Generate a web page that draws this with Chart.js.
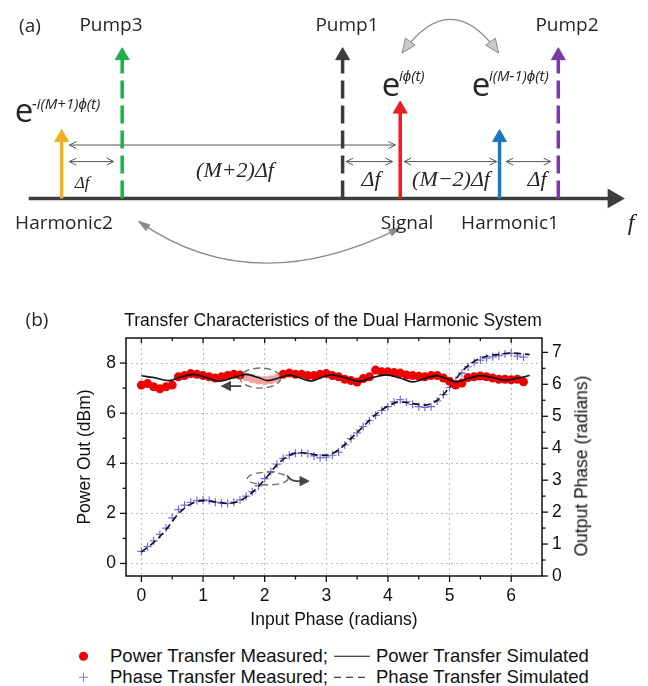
<!DOCTYPE html>
<html>
<head>
<meta charset="utf-8">
<script src="https://cdn.jsdelivr.net/npm/chart.js@4.4.1/dist/chart.umd.min.js"></script>
<style>
  body { margin: 0; background: #fff; }
  #wrap { position: relative; width: 648px; height: 686px; overflow: hidden; background: #fff; }
  canvas { position: absolute; left: 0; }
  .t { position: absolute; transform: translate(-50%, -50%); white-space: nowrap; line-height: 1;
       font-family: 'Open Sans', sans-serif; font-size: 19px; color: #262626; }
  .l { position: absolute; transform: translateY(-50%); white-space: nowrap; line-height: 1;
       font-family: 'Open Sans', sans-serif; color: #262626; }
  .m { font-family: 'Liberation Serif', serif; font-style: italic; font-size: 22px; }
  .sup { font-size: 15px; font-style: italic; }
  .row { position: absolute; left: 79px; transform: translateY(-50%); display: flex; align-items: center;
         font-family: 'Liberation Sans', Arial, sans-serif; font-size: 18.5px; color: #111; white-space: nowrap; line-height: 1; }
  .mk { width: 31px; height: 10px; display: flex; align-items: center; }
  .dot { width: 9px; height: 9px; border-radius: 50%; background: #ee0000; }
  .cross { width: 9px; height: 9px;
           background: linear-gradient(#7b7be0, #7b7be0) center / 1px 100% no-repeat,
                       linear-gradient(#7b7be0, #7b7be0) center / 100% 1px no-repeat; }
  .ln { width: 36px; height: 1.5px; background: #111; margin: 0 6px; }
  .dash { width: 36px; height: 1.5px; margin: 0 6px;
          background: repeating-linear-gradient(to right, #111 0 7px, transparent 7px 12px); }
  .rt { position: absolute; transform: translate(-50%, -50%) rotate(-90deg); white-space: nowrap; line-height: 1;
        font-family: 'Liberation Sans', Arial, sans-serif; font-size: 17.5px; color: #111; }
</style>
</head>
<body>
<div id="wrap">
  <canvas id="diagram" width="648" height="290" style="top:0"></canvas>
  <canvas id="chart" width="648" height="342" style="top:290px"></canvas>

  <!-- panel (a) labels -->
  <div class="t" style="left:30px;top:25px">(a)</div>
  <div class="t" style="left:111px;top:24px">Pump3</div>
  <div class="t" style="left:347px;top:24px">Pump1</div>
  <div class="t" style="left:567px;top:24px">Pump2</div>
  <div class="t" style="left:64px;top:222px">Harmonic2</div>
  <div class="t" style="left:407px;top:222px">Signal</div>
  <div class="t" style="left:510px;top:222px">Harmonic1</div>
  <div class="t m" style="left:631px;top:222px;font-size:24px">f</div>

  <div class="t" style="left:24px;top:109px;font-size:33px">e</div>
  <div class="l sup" style="left:32px;top:103px">-i(M+1)&#981;(t)</div>
  <div class="t" style="left:391px;top:83px;font-size:33px">e</div>
  <div class="l sup" style="left:399px;top:75px">i&#981;(t)</div>
  <div class="t" style="left:481px;top:83px;font-size:33px">e</div>
  <div class="l sup" style="left:489px;top:75px">i(M-1)&#981;(t)</div>

  <div class="t m" style="left:235px;top:170px">(M+2)&Delta;f</div>
  <div class="t m" style="left:82px;top:182px;font-size:17px">&Delta;f</div>
  <div class="t m" style="left:371px;top:179px">&Delta;f</div>
  <div class="t m" style="left:451px;top:179px">(M&minus;2)&Delta;f</div>
  <div class="t m" style="left:537px;top:179px">&Delta;f</div>

  <!-- panel (b) labels -->
  <div class="t" style="left:37px;top:319px">(b)</div>
  <div class="rt" style="left:582px;top:466px">Output Phase (radians)</div>

  <div class="row" style="top:656px"><span class="mk"><span class="dot"></span></span><span>Power Transfer Measured;</span><span class="ln"></span><span>Power Transfer Simulated</span></div>
  <div class="row" style="top:677px"><span class="mk"><span class="cross"></span></span><span>Phase Transfer Measured;</span><span class="dash"></span><span>Phase Transfer Simulated</span></div>
</div>

<script>
// ---- panel (a): spectrum components ----
const componentNames = ['Harmonic2', 'Pump3', 'Pump1', 'Signal', 'Harmonic1', 'Pump2'];
const componentFreq = [0, 1.03, 4.78, 5.76, 7.45, 8.45];
const componentAmp = [0.426, 1, 1, 0.626, 0.426, 1];
const componentColor = ['#f2b01e', '#1fae4b', '#3b3b3b', '#ee1c24', '#1b79c2', '#7b3aa8'];
const componentDashed = [false, true, true, false, false, true];

// frequency axis drawn from / to
const axisFrom = -0.56;
const axisTo = 9.387;

// spacing arrows (Δf brackets)
const spanFrom = [0.132, 0.132, 4.841, 5.826, 7.565];
const spanTo = [5.678, 0.886, 5.629, 7.401, 8.320];
const spanLevel = [0.374, 0.258, 0.258, 0.258, 0.258];

// curved links between components
const linkStart = [[5.793, 1.019], [1.313, -0.161]];
const linkBend = [[6.613, 1.490], [3.249, -0.723]];
const linkEnd = [[7.434, 1.019], [5.760, -0.206]];

// ---- panel (b): transfer characteristics ----
const powerMeasX = [0, 0.1, 0.2, 0.3, 0.4, 0.5, 0.6, 0.7, 0.8, 0.9, 1.0, 1.1, 1.2, 1.3, 1.4, 1.5, 1.6,
  2.3, 2.4, 2.5, 2.6, 2.7, 2.8, 2.9, 3.0, 3.1, 3.2, 3.3, 3.4, 3.5, 3.6, 3.7, 3.8, 3.9, 4.0, 4.1, 4.2,
  4.3, 4.4, 4.5, 4.6, 4.7, 4.8, 4.9, 5.0, 5.1, 5.2, 5.3, 5.4, 5.5, 5.6, 5.7, 5.8, 5.9, 6.0, 6.1, 6.2];
const powerMeasY = [7.12, 7.18, 7.05, 6.97, 7.05, 7.12, 7.45, 7.50, 7.58, 7.55, 7.50, 7.45, 7.40, 7.45, 7.50, 7.55, 7.52,
  7.55, 7.60, 7.55, 7.55, 7.50, 7.50, 7.55, 7.58, 7.50, 7.45, 7.35, 7.30, 7.24, 7.38, 7.45, 7.72, 7.65, 7.65, 7.62, 7.60,
  7.52, 7.50, 7.47, 7.45, 7.50, 7.50, 7.40, 7.27, 7.12, 7.20, 7.42, 7.45, 7.48, 7.45, 7.40, 7.35, 7.35, 7.33, 7.35, 7.25];

// highlighted (faded) points inside the left ellipse
const powerFadedX = [1.7, 1.8, 1.9, 2.0, 2.1, 2.2];
const powerFadedY = [7.45, 7.38, 7.32, 7.30, 7.33, 7.40];

const powerSimX = [0, 0.2, 0.45, 0.65, 0.84, 1.05, 1.27, 1.5, 1.7, 1.9, 2.05, 2.25, 2.4, 2.55, 2.75, 2.95, 3.1,
  3.3, 3.54, 3.75, 3.97, 4.2, 4.4, 4.6, 4.78, 4.95, 5.1, 5.3, 5.49, 5.7, 5.9, 6.1, 6.3];
const powerSimY = [7.49, 7.42, 7.30, 7.45, 7.55, 7.42, 7.28, 7.42, 7.55, 7.42, 7.30, 7.42, 7.52, 7.42, 7.28, 7.45, 7.53,
  7.42, 7.27, 7.42, 7.53, 7.40, 7.25, 7.38, 7.50, 7.38, 7.25, 7.38, 7.50, 7.42, 7.31, 7.40, 7.50];

const phaseMeasX = [0, 0.1, 0.2, 0.3, 0.4, 0.5, 0.6, 0.7, 0.8, 0.9, 1.0, 1.1, 1.2, 1.3, 1.4, 1.5, 1.6, 1.7, 1.8, 1.9,
  2.0, 2.1, 2.2, 2.3, 2.4, 2.5, 2.6, 2.7, 2.8, 2.9, 3.0, 3.1, 3.2, 3.3, 3.4, 3.5, 3.6, 3.7, 3.8, 3.9,
  4.0, 4.1, 4.2, 4.3, 4.4, 4.5, 4.6, 4.7, 4.8, 4.9, 5.0, 5.1, 5.2, 5.3, 5.4, 5.5, 5.6, 5.7, 5.8, 5.9,
  6.0, 6.1, 6.2];
const phaseMeasY = [0.77, 0.92, 1.10, 1.30, 1.50, 1.82, 2.08, 2.22, 2.30, 2.36,
  2.38, 2.36, 2.31, 2.28, 2.27, 2.31, 2.38, 2.50, 2.64, 2.82,
  3.05, 3.27, 3.50, 3.68, 3.78, 3.84, 3.86, 3.83, 3.76, 3.70,
  3.72, 3.78, 3.88, 4.10, 4.30, 4.48, 4.68, 4.86, 5.03, 5.18,
  5.30, 5.45, 5.52, 5.45, 5.37, 5.30, 5.28, 5.30, 5.48, 5.68,
  5.90, 6.12, 6.35, 6.55, 6.68, 6.76, 6.82, 6.86, 6.90, 6.95,
  6.97, 6.88, 6.85];

const phaseSimX = [0, 0.2, 0.4, 0.6, 0.8, 1.0, 1.2, 1.4, 1.6, 1.8, 2.0, 2.2, 2.4, 2.6, 2.8, 3.0, 3.2,
  3.4, 3.6, 3.8, 4.0, 4.2, 4.4, 4.6, 4.8, 5.0, 5.2, 5.4, 5.6, 5.8, 6.0, 6.2, 6.3];
const phaseSimY = [0.75, 1.05, 1.45, 1.95, 2.25, 2.36, 2.32, 2.27, 2.36, 2.62, 3.02, 3.48, 3.78, 3.86, 3.80, 3.78, 3.95,
  4.30, 4.68, 5.05, 5.32, 5.45, 5.40, 5.35, 5.50, 5.90, 6.40, 6.72, 6.88, 6.94, 6.98, 6.95, 6.93];

const xTicks = [0, 1, 2, 3, 4, 5, 6];
const xMinor = [0.5, 1.5, 2.5, 3.5, 4.5, 5.5];
const yTicks = [0, 2, 4, 6, 8];
const yMinor = [1, 3, 5, 7];
const y2Ticks = [0, 1, 2, 3, 4, 5, 6, 7];
const y2Minor = [0.5, 1.5, 2.5, 3.5, 4.5, 5.5, 6.5];

function pts(xs, ys) {
  return xs.map((x, i) => ({ x: x, y: ys[i] }));
}

// arrow head with the tip at (x, y) pointing along ang
function arrowHead(ctx, x, y, ang, len, half, filled) {
  const bx = x - len * Math.cos(ang);
  const by = y - len * Math.sin(ang);
  ctx.beginPath();
  ctx.moveTo(bx - half * Math.sin(ang), by + half * Math.cos(ang));
  ctx.lineTo(x, y);
  ctx.lineTo(bx + half * Math.sin(ang), by - half * Math.cos(ang));
  if (filled) {
    ctx.closePath();
    ctx.fill();
  }
  ctx.stroke();
}

// ----- panel (a) -----
const spanPlugin = {
  id: 'spans',
  beforeDatasetsDraw(chart) {
    const { ctx, scales: { x, y } } = chart;
    ctx.save();
    ctx.strokeStyle = '#555';
    ctx.lineWidth = 1;
    spanFrom.forEach((f, i) => {
      const x1 = x.getPixelForValue(f);
      const x2 = x.getPixelForValue(spanTo[i]);
      const py = y.getPixelForValue(spanLevel[i]);
      ctx.beginPath();
      ctx.moveTo(x1, py);
      ctx.lineTo(x2, py);
      ctx.stroke();
      arrowHead(ctx, x1, py, Math.PI, 7, 3.5, false);
      arrowHead(ctx, x2, py, 0, 7, 3.5, false);
    });
    ctx.restore();
  },
  afterDatasetsDraw(chart) {
    const { ctx, scales: { x, y } } = chart;
    ctx.save();
    linkStart.forEach((s, i) => {
      const sx = x.getPixelForValue(s[0]), sy = y.getPixelForValue(s[1]);
      const cx = x.getPixelForValue(linkBend[i][0]), cy = y.getPixelForValue(linkBend[i][1]);
      const ex = x.getPixelForValue(linkEnd[i][0]), ey = y.getPixelForValue(linkEnd[i][1]);
      ctx.strokeStyle = '#8c8c8c';
      ctx.lineWidth = 1.3;
      ctx.beginPath();
      ctx.moveTo(sx, sy);
      ctx.quadraticCurveTo(cx, cy, ex, ey);
      ctx.stroke();
      const big = i === 0;
      ctx.fillStyle = big ? '#c9c9c9' : '#8c8c8c';
      ctx.strokeStyle = '#8a8a8a';
      ctx.lineWidth = 1;
      arrowHead(ctx, sx, sy, Math.atan2(sy - cy, sx - cx), big ? 14 : 11, big ? 6 : 3.5, true);
      arrowHead(ctx, ex, ey, Math.atan2(ey - cy, ex - cx), big ? 14 : 11, big ? 6 : 3.5, true);
    });
    ctx.restore();
  }
};

const diagramSets = componentNames.map((name, i) => ({
  label: name,
  data: [{ x: componentFreq[i], y: 0 }, { x: componentFreq[i], y: componentAmp[i] }],
  showLine: true,
  borderColor: componentColor[i],
  backgroundColor: componentColor[i],
  borderWidth: 3.5,
  borderDash: componentDashed[i] ? [18, 7] : [],
  pointStyle: 'triangle',
  pointRadius: [0, 8],
  pointBackgroundColor: componentColor[i],
  pointBorderColor: componentColor[i],
  pointBorderWidth: 1,
  clip: false,
  order: 1
}));

diagramSets.push({
  label: 'f',
  data: [{ x: axisFrom, y: 0 }, { x: axisTo, y: 0 }],
  showLine: true,
  borderColor: '#3d3d3d',
  borderWidth: 3.5,
  pointStyle: 'triangle',
  pointRadius: [0, 8],
  pointRotation: [0, 90],
  pointBackgroundColor: '#3d3d3d',
  pointBorderColor: '#3d3d3d',
  clip: false,
  order: 5
});

new Chart(document.getElementById('diagram'), {
  type: 'scatter',
  data: { datasets: diagramSets },
  options: {
    responsive: false,
    animation: false,
    events: [],
    layout: { padding: 0 },
    plugins: { legend: { display: false }, tooltip: { enabled: false } },
    scales: {
      x: { type: 'linear', display: false, min: -0.853, max: 9.78 },
      y: { type: 'linear', display: false, min: -0.5613, max: 1.3097 }
    }
  },
  plugins: [spanPlugin]
});

// ----- panel (b) -----
Chart.defaults.font.family = "'Liberation Sans', Arial, sans-serif";
Chart.defaults.color = '#111';

const frameTicks = {
  id: 'frameTicks',
  afterDatasetsDraw(chart) {
    const { ctx, chartArea: a, scales } = chart;
    ctx.save();
    ctx.strokeStyle = '#111';
    ctx.lineWidth = 1.5;
    ctx.strokeRect(a.left, a.top, a.right - a.left, a.bottom - a.top);
    const seg = (x1, y1, x2, y2) => {
      ctx.beginPath();
      ctx.moveTo(x1, y1);
      ctx.lineTo(x2, y2);
      ctx.stroke();
    };
    ctx.lineWidth = 1.3;
    xTicks.forEach(v => {
      const p = scales.x.getPixelForValue(v);
      seg(p, a.bottom, p, a.bottom + 6);
      seg(p, a.top, p, a.top + 5);
    });
    xMinor.forEach(v => {
      const p = scales.x.getPixelForValue(v);
      seg(p, a.bottom, p, a.bottom + 3.5);
      seg(p, a.top, p, a.top + 3);
    });
    yTicks.forEach(v => {
      const p = scales.y.getPixelForValue(v);
      seg(a.left - 6, p, a.left, p);
    });
    yMinor.forEach(v => {
      const p = scales.y.getPixelForValue(v);
      seg(a.left - 3.5, p, a.left, p);
    });
    y2Ticks.forEach(v => {
      const p = scales.y2.getPixelForValue(v);
      seg(a.right, p, a.right + 6, p);
    });
    y2Minor.forEach(v => {
      const p = scales.y2.getPixelForValue(v);
      seg(a.right, p, a.right + 3.5, p);
    });
    ctx.restore();
  }
};

// dashed ellipses that point each curve to its axis
const markerPlugin = {
  id: 'markers',
  afterDatasetsDraw(chart) {
    const { ctx, scales: { x, y, y2 } } = chart;
    ctx.save();
    ctx.strokeStyle = '#6e6e6e';
    ctx.lineWidth = 1.4;
    ctx.setLineDash([7, 4]);
    // power -> left axis
    const cx = x.getPixelForValue(1.93), cy = y.getPixelForValue(7.40);
    const rx = x.getPixelForValue(1.93 + 0.33) - cx, ry = cy - y.getPixelForValue(7.80);
    ctx.beginPath();
    ctx.ellipse(cx, cy, rx, ry, 0, 0, Math.PI * 2);
    ctx.stroke();
    // phase -> right axis
    const cx2 = x.getPixelForValue(2.05), cy2 = y2.getPixelForValue(3.05);
    const rx2 = x.getPixelForValue(2.05 + 0.33) - cx2, ry2 = cy2 - y2.getPixelForValue(3.25);
    ctx.beginPath();
    ctx.ellipse(cx2, cy2, rx2, ry2, 0, 0, Math.PI * 2);
    ctx.stroke();
    ctx.setLineDash([]);
    ctx.strokeStyle = '#444';
    ctx.fillStyle = '#444';
    ctx.lineWidth = 1.8;
    // left arrow
    const ly = y.getPixelForValue(7.08);
    const lx1 = x.getPixelForValue(1.62), lx2 = x.getPixelForValue(1.30);
    ctx.beginPath();
    ctx.moveTo(lx1, ly);
    ctx.lineTo(lx2 + 6, ly);
    ctx.stroke();
    ctx.lineWidth = 1;
    arrowHead(ctx, lx2, ly, Math.PI, 9, 4.5, true);
    // right arrow with a small tail from the ellipse
    ctx.lineWidth = 1.8;
    const ry0 = y2.getPixelForValue(2.97);
    const rxa = x.getPixelForValue(2.38), rxb = x.getPixelForValue(2.72);
    ctx.beginPath();
    ctx.moveTo(cx2 + rx2 - 1, cy2 - 3);
    ctx.quadraticCurveTo(rxa + 3, ry0, rxa + 8, ry0);
    ctx.lineTo(rxb - 6, ry0);
    ctx.stroke();
    ctx.lineWidth = 1;
    arrowHead(ctx, rxb, ry0, 0, 9, 4.5, true);
    ctx.restore();
  }
};

const tickFont = { size: 17.5 };

new Chart(document.getElementById('chart'), {
  type: 'scatter',
  data: {
    datasets: [
      {
        label: 'Power Transfer Simulated',
        data: pts(powerSimX, powerSimY),
        showLine: true,
        borderColor: '#111',
        borderWidth: 1.6,
        pointRadius: 0,
        cubicInterpolationMode: 'monotone',
        yAxisID: 'y',
        order: 1
      },
      {
        label: 'Power Transfer Measured',
        data: pts(powerMeasX, powerMeasY),
        pointRadius: 4.5,
        pointBackgroundColor: '#ee0000',
        pointBorderColor: '#ee0000',
        pointBorderWidth: 0,
        yAxisID: 'y',
        order: 2
      },
      {
        label: 'Power Transfer Measured (highlighted)',
        data: pts(powerFadedX, powerFadedY),
        pointRadius: 4.5,
        pointBackgroundColor: '#f4a3a3',
        pointBorderColor: '#f4a3a3',
        pointBorderWidth: 0,
        yAxisID: 'y',
        order: 2
      },
      {
        label: 'Phase Transfer Simulated',
        data: pts(phaseSimX, phaseSimY),
        showLine: true,
        borderColor: '#111',
        borderWidth: 1.6,
        borderDash: [7, 4],
        pointRadius: 0,
        cubicInterpolationMode: 'monotone',
        yAxisID: 'y2',
        order: 3
      },
      {
        label: 'Phase Transfer Measured',
        data: pts(phaseMeasX, phaseMeasY),
        pointStyle: 'cross',
        pointRadius: 4,
        pointBorderColor: 'rgba(95, 95, 225, 0.9)',
        pointBorderWidth: 1.2,
        yAxisID: 'y2',
        order: 4
      }
    ]
  },
  options: {
    responsive: false,
    animation: false,
    events: [],
    layout: { padding: { left: 18, right: 0, top: 0, bottom: 0 } },
    plugins: {
      legend: { display: false },
      tooltip: { enabled: false },
      title: {
        display: true,
        text: 'Transfer Characteristics of the Dual Harmonic System',
        color: '#111',
        font: { size: 17.5, weight: 'normal' },
        padding: { top: 21, bottom: 6 }
      }
    },
    scales: {
      x: {
        type: 'linear',
        position: 'bottom',
        min: -0.25,
        max: 6.5,
        afterBuildTicks: s => { s.ticks = xTicks.map(v => ({ value: v })); },
        afterFit: s => { s.height = 56; },
        grid: { color: '#bdbdbd', lineWidth: 1, drawTicks: false },
        border: { display: false, dash: [2, 3] },
        ticks: { font: tickFont, padding: 10 },
        title: { display: true, text: 'Input Phase (radians)', font: { size: 17.5 }, padding: { top: 0, bottom: 1 } }
      },
      y: {
        type: 'linear',
        position: 'left',
        min: -0.5,
        max: 9,
        afterBuildTicks: s => { s.ticks = yTicks.map(v => ({ value: v })); },
        afterFit: s => { s.width = 108; },
        grid: { color: '#bdbdbd', lineWidth: 1, drawTicks: false },
        border: { display: false, dash: [2, 3] },
        ticks: { font: tickFont, padding: 10 },
        title: { display: true, text: 'Power Out (dBm)', font: { size: 17.5 }, padding: { top: 57, bottom: 0 } }
      },
      y2: {
        type: 'linear',
        position: 'right',
        min: 0,
        max: 7.45,
        afterBuildTicks: s => { s.ticks = y2Ticks.map(v => ({ value: v })); },
        afterFit: s => { s.width = 106; },
        grid: { display: false, drawTicks: false },
        border: { display: false },
        ticks: { font: tickFont, padding: 10 }
      }
    }
  },
  plugins: [frameTicks, markerPlugin]
});
</script>
</body>
</html>
